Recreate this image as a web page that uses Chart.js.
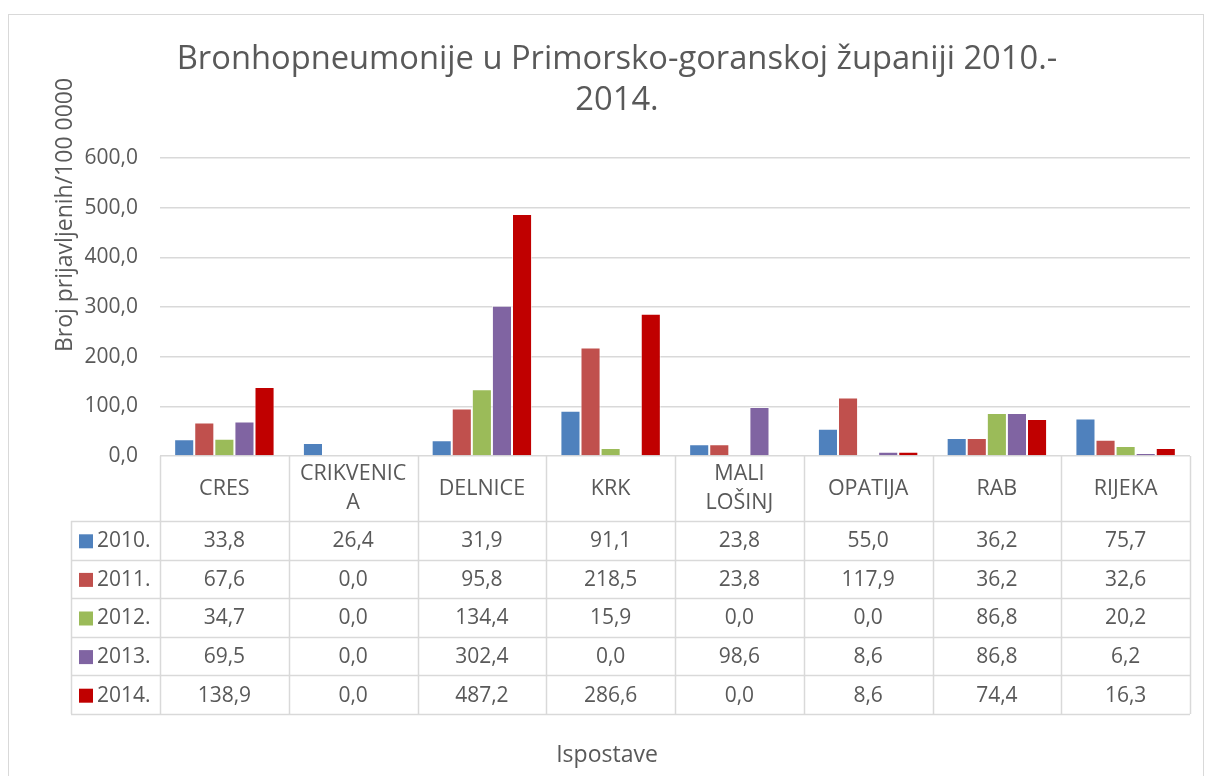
<!DOCTYPE html>
<html>
<head>
<meta charset="utf-8">
<title>Bronhopneumonije</title>
<style>
  html, body { margin: 0; padding: 0; background: #fff; }
  canvas { display: block; }
</style>
</head>
<body>
<canvas id="myChart" width="1206" height="776"></canvas>
<script src="https://cdn.jsdelivr.net/npm/chart.js@4.4.1/dist/chart.umd.min.js"></script>
<script>
const categories = ['CRES', 'CRIKVENICA', 'DELNICE', 'KRK', 'MALI LOŠINJ', 'OPATIJA', 'RAB', 'RIJEKA'];
const categoryLines = [['CRES'], ['CRIKVENIC', 'A'], ['DELNICE'], ['KRK'], ['MALI', 'LOŠINJ'], ['OPATIJA'], ['RAB'], ['RIJEKA']];
const years = ['2010.', '2011.', '2012.', '2013.', '2014.'];
const v2010 = [33.8, 26.4, 31.9, 91.1, 23.8, 55.0, 36.2, 75.7];
const v2011 = [67.6, 0.0, 95.8, 218.5, 23.8, 117.9, 36.2, 32.6];
const v2012 = [34.7, 0.0, 134.4, 15.9, 0.0, 0.0, 86.8, 20.2];
const v2013 = [69.5, 0.0, 302.4, 0.0, 98.6, 8.6, 86.8, 6.2];
const v2014 = [138.9, 0.0, 487.2, 286.6, 0.0, 8.6, 74.4, 16.3];
const yTicks = [0, 100, 200, 300, 400, 500, 600];
const colors = ['#4F81BD', '#C0504D', '#9BBB59', '#8064A2', '#C00000'];

const FONT = '"Open Sans", sans-serif';
const TEXT = '#595959';
const GRID = '#D9D9D9';
const fmt = v => v.toFixed(1).replace('.', ',');

const series = [v2010, v2011, v2012, v2013, v2014];

// draws title, axis title, data table and outer frame
const tablePlugin = {
  id: 'tablePlugin',
  afterDraw(chart) {
    const ctx = chart.ctx;
    const x = chart.scales.x;
    const area = chart.chartArea;
    const colW = (area.right - area.left) / categories.length;
    const rowTop = 521, rowH = 38.6, legendLeft = 71;
    const tableBottom = rowTop + rowH * years.length;
    ctx.save();

    // outer frame
    ctx.strokeStyle = GRID;
    ctx.lineWidth = 1;
    ctx.strokeRect(8.5, 14.5, 1195, 780);

    // grid of the table
    ctx.lineWidth = 1.5;
    ctx.beginPath();
    for (let i = 0; i <= categories.length; i++) {
      const px = Math.round(area.left + i * colW) + 0.5;
      ctx.moveTo(px, area.bottom);
      ctx.lineTo(px, tableBottom);
    }
    ctx.moveTo(legendLeft + 0.5, rowTop);
    ctx.lineTo(legendLeft + 0.5, tableBottom);
    for (let r = 0; r <= years.length; r++) {
      const py = Math.round(rowTop + r * rowH) + 0.5;
      ctx.moveTo(legendLeft, py);
      ctx.lineTo(area.right, py);
    }
    ctx.stroke();

    // category labels
    ctx.fillStyle = TEXT;
    ctx.font = '21.5px ' + FONT;
    ctx.textAlign = 'center';
    ctx.textBaseline = 'middle';
    categoryLines.forEach((lines, i) => {
      const cx = x.getPixelForValue(i);
      const mid = (area.bottom + rowTop) / 2;
      const lh = 29;
      lines.forEach((t, k) => {
        ctx.fillText(t, cx, mid + (k - (lines.length - 1) / 2) * lh);
      });
    });

    // rows
    ctx.font = '21px ' + FONT;
    years.forEach((yr, r) => {
      const cy = rowTop + r * rowH + rowH / 2 + 1;
      ctx.fillStyle = colors[r];
      ctx.fillRect(79, cy - 7, 14, 14);
      ctx.fillStyle = TEXT;
      ctx.textAlign = 'left';
      ctx.fillText(yr, 97, cy);
      ctx.textAlign = 'center';
      series[r].forEach((v, i) => {
        ctx.fillText(fmt(v), x.getPixelForValue(i), cy);
      });
    });

    // title
    ctx.font = '32.7px ' + FONT;
    ctx.textAlign = 'center';
    ctx.fillText('Bronhopneumonije u Primorsko-goranskoj županiji 2010.-', 617, 60);
    ctx.fillText('2014.', 617, 101);

    // x axis title
    ctx.font = '23px ' + FONT;
    ctx.fillText('Ispostave', 607, 755);

    // y axis title
    ctx.translate(65, 215);
    ctx.rotate(-Math.PI / 2);
    ctx.font = '23px ' + FONT;
    ctx.fillText('Broj prijavljenih/100 0000', 0, 0);
    ctx.restore();
  }
};

new Chart(document.getElementById('myChart'), {
  type: 'bar',
  data: {
    labels: categories,
    datasets: years.map((yr, i) => ({
      label: yr,
      data: series[i],
      backgroundColor: colors[i],
      borderColor: 'rgba(255,255,255,0.6)',
      borderWidth: 1
    }))
  },
  options: {
    responsive: false,
    animation: false,
    layout: { padding: { left: 0, right: 16, top: 158, bottom: 320 } },
    plugins: {
      legend: { display: false },
      title: { display: false },
      tooltip: { enabled: false }
    },
    datasets: { bar: { categoryPercentage: 0.78, barPercentage: 1 } },
    scales: {
      x: { display: false },
      y: {
        min: 0,
        max: 600,
        afterFit(scale) { scale.width = 160; },
        afterBuildTicks(scale) { scale.ticks = yTicks.map(v => ({ value: v })); },
        ticks: {
          color: TEXT,
          font: { family: FONT, size: 21 },
          padding: 22,
          callback: v => fmt(v)
        },
        grid: { color: GRID, lineWidth: 1.5, drawTicks: false },
        border: { display: false }
      }
    }
  },
  plugins: [tablePlugin]
});
</script>
</body>
</html>
